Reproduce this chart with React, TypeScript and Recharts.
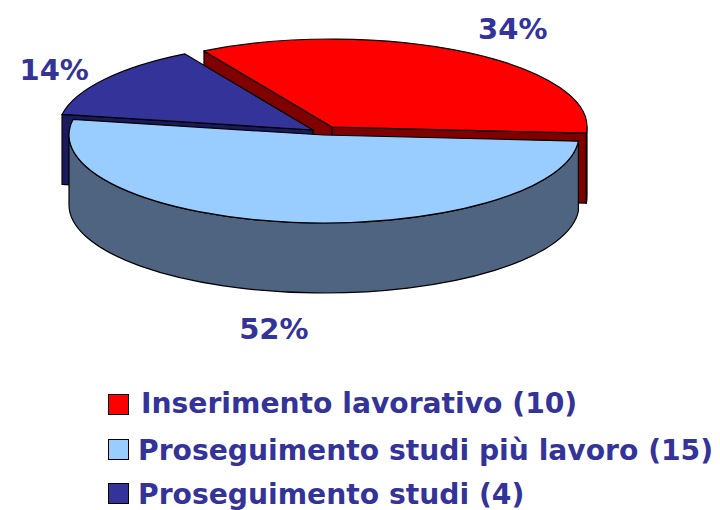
import { PieChart, Pie, Legend } from 'recharts'

// draw order goes counter-clockwise from the right edge: red, dark blue, light blue
const categories = ['Inserimento lavorativo (10)', 'Proseguimento studi (4)', 'Proseguimento studi più lavoro (15)']
const values = [10, 4, 15]
const topColors = ['#ff0000', '#333399', '#99ccff']
const wallColors = ['#800000', '#1a1a5c', '#4e6480']

const legendOrder = [0, 2, 1]
const legendTops = [394, 439, 483]
const legendTextTops = [390, 437, 481]
const legendTextLefts = [141, 138, 138]

const explodeX = [7, -12, -1]
const explodeY = [-3, 0, 5]
const labelDistance = [1.37, 1.23, 1.4]
const labelNudgeX = [-4, -2, -6]
const labelNudgeY = [4, 2, 72]

const TILT = 0.345
const DEPTH = 70
const TEXT_COLOR = '#333399'
const FONT = '"DejaVu Sans", sans-serif'

const chartData = categories.map((name, i) => ({ name, value: values[i] }))
const rad = (deg: number) => (deg * Math.PI) / 180

function Slice3D(props: any) {
  const { cx, cy, outerRadius, startAngle, endAngle, name } = props
  const i = categories.indexOf(name)
  const ax = cx + explodeX[i]
  const ay = cy + explodeY[i]
  const rx = outerRadius
  const ry = outerRadius * TILT
  const lo = Math.min(startAngle, endAngle)
  const hi = Math.max(startAngle, endAngle)
  const px = (a: number) => ax + rx * Math.cos(rad(a))
  const py = (a: number) => ay - ry * Math.sin(rad(a))
  const large = hi - lo > 180 ? 1 : 0
  const line = { stroke: '#000', strokeWidth: 1.2, strokeLinejoin: 'round' as const }

  const radialFace = (a: number) =>
    `M${ax},${ay} L${px(a)},${py(a)} L${px(a)},${py(a) + DEPTH} L${ax},${ay + DEPTH} Z`

  const walls: string[] = []
  // only the faces turned towards the viewer
  if (Math.cos(rad(lo)) > 0) walls.push(radialFace(lo))
  if (Math.cos(rad(hi)) < 0) walls.push(radialFace(hi))

  // outer rim, the front half of the ellipse only
  const rims: string[] = []
  const addRim = (a: number, b: number) => {
    if (b <= a) return
    const big = b - a > 180 ? 1 : 0
    rims.push(
      `M${px(a)},${py(a)} A${rx},${ry} 0 ${big} 0 ${px(b)},${py(b)} ` +
        `L${px(b)},${py(b) + DEPTH} A${rx},${ry} 0 ${big} 1 ${px(a)},${py(a) + DEPTH} Z`
    )
  }
  addRim(Math.max(lo, 180), Math.min(hi, 360))
  addRim(Math.max(lo, -180), Math.min(hi, 0))

  return (
    <g>
      {walls.map((d, k) => <path key={k} d={d} fill={wallColors[i]} {...line} />)}
      {rims.map((d, k) => <path key={k} d={d} fill={wallColors[i]} {...line} />)}
      <path
        d={`M${ax},${ay} L${px(lo)},${py(lo)} A${rx},${ry} 0 ${large} 0 ${px(hi)},${py(hi)} Z`}
        fill={topColors[i]}
        {...line}
      />
    </g>
  )
}

function sliceLabel(props: any) {
  const { cx, cy, outerRadius, midAngle, percent, name } = props
  const i = categories.indexOf(name)
  const k = labelDistance[i]
  const x = cx + explodeX[i] + outerRadius * k * Math.cos(rad(midAngle)) + labelNudgeX[i]
  const y = cy + explodeY[i] - outerRadius * TILT * k * Math.sin(rad(midAngle)) + labelNudgeY[i]
  return (
    <text x={x} y={y} textAnchor="middle" dominantBaseline="central" fill={TEXT_COLOR} fontFamily={FONT} fontWeight="bold" fontSize={29}>
      {`${Math.round(percent * 100)}%`}
    </text>
  )
}

function LegendBlock() {
  return (
    <div style={{ position: 'relative', width: 720, height: 510 }}>
      {legendOrder.map((idx, row) => (
        <div key={idx}>
          <div
            style={{
              position: 'absolute',
              left: 108,
              top: legendTops[row],
              width: 19,
              height: 19,
              background: topColors[idx],
              border: '1px solid #000',
            }}
          />
          <div
            style={{
              position: 'absolute',
              left: legendTextLefts[row],
              top: legendTextTops[row],
              lineHeight: '28px',
              whiteSpace: 'nowrap',
              color: TEXT_COLOR,
              fontFamily: FONT,
              fontWeight: 'bold',
              fontSize: 28.2,
            }}
          >
            {categories[idx]}
          </div>
        </div>
      ))}
    </div>
  )
}

export default function App() {
  return (
    <div style={{ position: 'absolute', left: 0, top: 0, width: 720, height: 510, background: '#fff', overflow: 'hidden' }}>
      <PieChart width={720} height={510} margin={{ top: 0, right: 0, bottom: 0, left: 0 }}>
        <Pie
          data={chartData}
          dataKey="value"
          nameKey="name"
          cx={325}
          cy={130}
          innerRadius={0}
          outerRadius={255}
          startAngle={-4}
          endAngle={356}
          stroke="none"
          shape={Slice3D}
          label={sliceLabel}
          labelLine={false}
          isAnimationActive={false}
        />
        <Legend content={<LegendBlock />} wrapperStyle={{ position: 'absolute', left: 0, top: 0, width: 720, height: 510, pointerEvents: 'none' }} />
      </PieChart>
    </div>
  )
}
